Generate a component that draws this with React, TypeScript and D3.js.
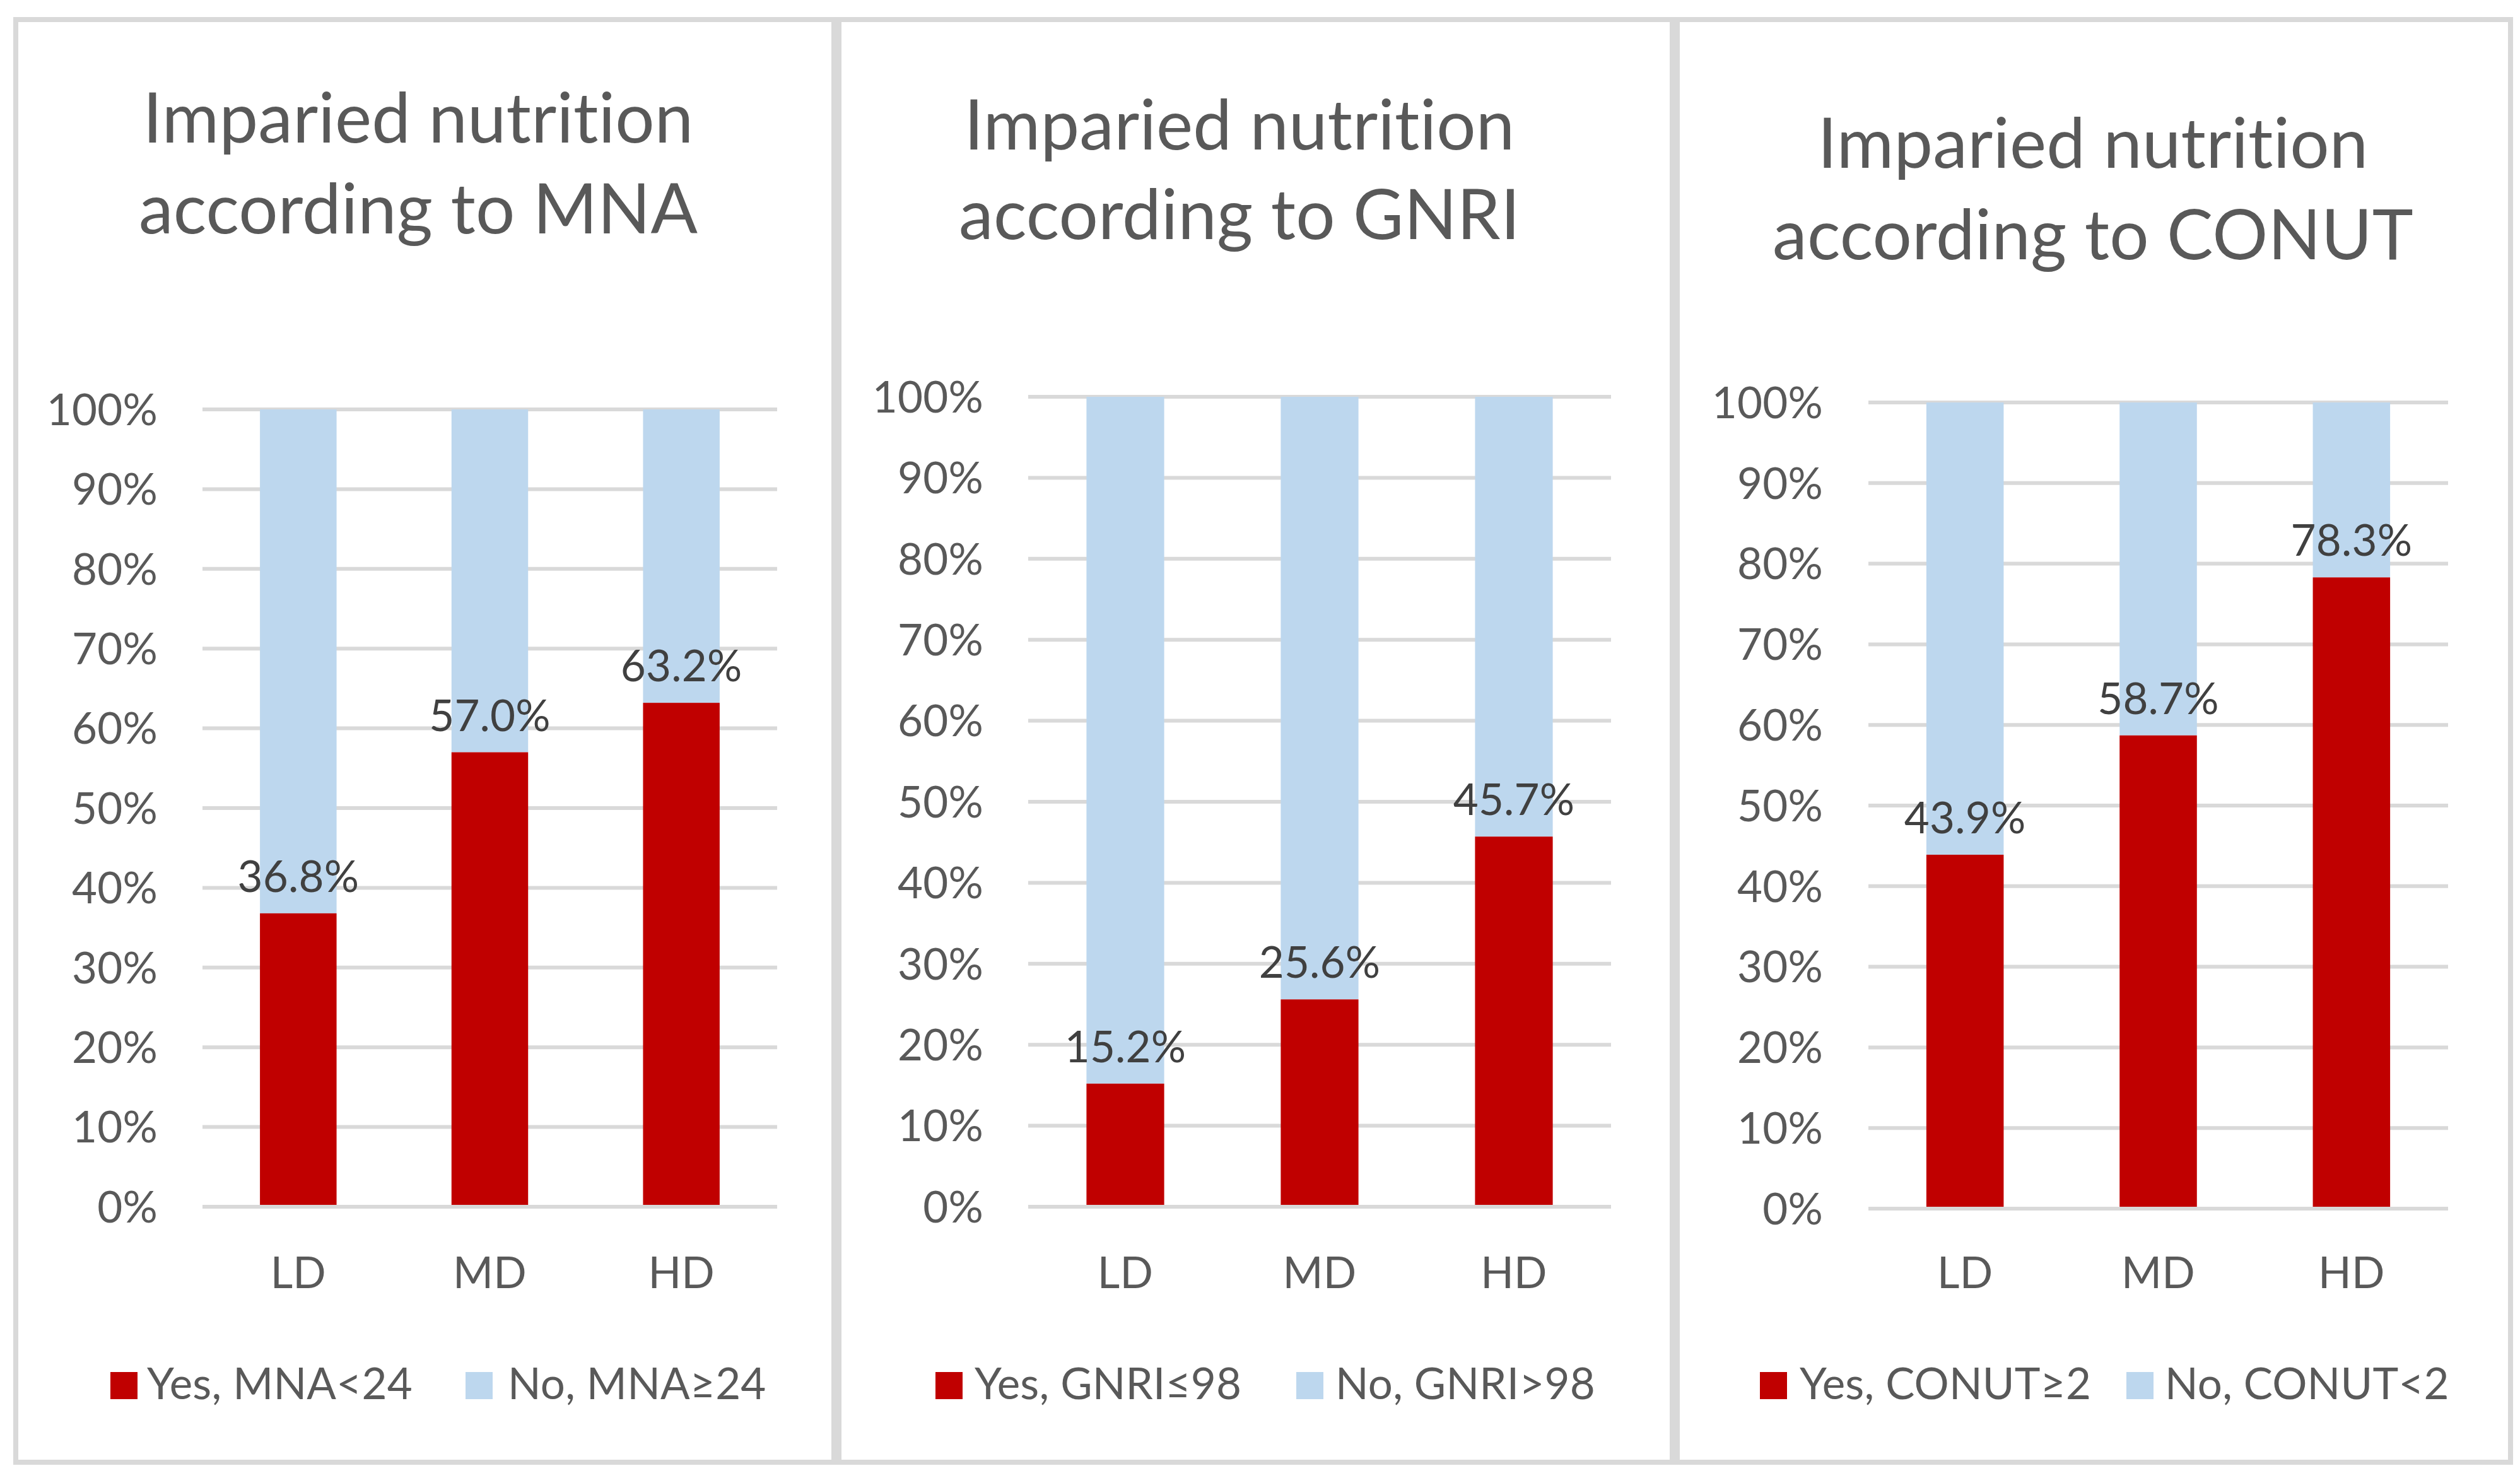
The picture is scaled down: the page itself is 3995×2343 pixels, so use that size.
import React from 'react';
import * as d3 from 'd3';

// ---------- data ----------
const categories = ['LD', 'MD', 'HD'];
const yTicks = [0, 10, 20, 30, 40, 50, 60, 70, 80, 90, 100];

const titleLine1 = ['Imparied nutrition', 'Imparied nutrition', 'Imparied nutrition'];
const titleLine2 = ['according to MNA', 'according to GNRI', 'according to CONUT'];

const yesMNA = [36.8, 57.0, 63.2];
const yesGNRI = [15.2, 25.6, 45.7];
const yesCONUT = [43.9, 58.7, 78.3];

const yesLabels = ['Yes, MNA<24', 'Yes, GNRI≤98', 'Yes, CONUT≥2'];
const noLabels = ['No, MNA≥24', 'No, GNRI>98', 'No, CONUT<2'];

const yesSeries = [yesMNA, yesGNRI, yesCONUT];

// ---------- layout / style ----------
const W = 3995;
const H = 2343;
const FONT = 'Lato, "Open Sans", sans-serif';
const RED = '#C00000';
const BLUE = '#BDD7EE';
const GRID = '#D9D9D9';
const TEXT = '#595959';
const LABEL = '#404040';

const layouts = [
  { box: [21, 1326], plot: [321, 1232, 649, 1913], titleX: 663, titleY: [226, 370], tickRight: 250, leg: [175, 233, 738, 805] },
  { box: [1326, 2655], plot: [1630, 2554, 629, 1913], titleX: 1965, titleY: [237, 379], tickRight: 1559, leg: [1483, 1545, 2055, 2117] },
  { box: [2655, 3984], plot: [2962, 3881, 638, 1916], titleX: 3318, titleY: [266, 411], tickRight: 2890, leg: [2790, 2853, 3371, 3432] },
];

const BOX_TOP = 27;
const BOX_BOTTOM = 2322;
const BORDER = 8;
const TITLE_SIZE = 110;
const AXIS_SIZE = 69;
const CAT_BASELINE = 2042;
const LEG_BASELINE = 2218;
const LEG_SQ = 43;

const textStyle: React.CSSProperties = {
  fontVariantLigatures: 'none',
  fontFeatureSettings: '"liga" 0, "clig" 0, "dlig" 0',
  letterSpacing: '0.2px',
};

function Panel({ i }: { i: number }) {
  const L = layouts[i];
  const [x0, x1, yTop, yBot] = L.plot;
  const x = d3.scaleBand<string>().domain(categories).range([x0, x1]).paddingInner(0.6).paddingOuter(0.3);
  const y = d3.scaleLinear().domain([0, 100]).range([yBot, yTop]);
  const yes = yesSeries[i];
  const capHalf = AXIS_SIZE * 0.36;

  return (
    <g>
      <rect
        x={L.box[0] + BORDER / 2}
        y={BOX_TOP + BORDER / 2}
        width={L.box[1] - L.box[0] - BORDER}
        height={BOX_BOTTOM - BOX_TOP - BORDER}
        fill="#ffffff"
        stroke={GRID}
        strokeWidth={BORDER}
      />
      <text x={L.titleX} y={L.titleY[0]} textAnchor="middle" fontSize={TITLE_SIZE} fill={TEXT} fontFamily={FONT} style={textStyle}>
        {titleLine1[i]}
      </text>
      <text x={L.titleX} y={L.titleY[1]} textAnchor="middle" fontSize={TITLE_SIZE} fill={TEXT} fontFamily={FONT} style={textStyle}>
        {titleLine2[i]}
      </text>

      {yTicks.map((t) => (
        <g key={t}>
          {t > 0 && <line x1={x0} x2={x1} y1={y(t)} y2={y(t)} stroke={GRID} strokeWidth={6} />}
          <text x={L.tickRight} y={y(t) + capHalf} textAnchor="end" fontSize={AXIS_SIZE} fill={TEXT} fontFamily={FONT} style={textStyle}>
            {`${t}%`}
          </text>
        </g>
      ))}

      {categories.map((c, k) => (
        <g key={c}>
          <rect x={x(c)} y={y(100)} width={x.bandwidth()} height={y(yes[k]) - y(100)} fill={BLUE} />
          <rect x={x(c)} y={y(yes[k])} width={x.bandwidth()} height={y(0) - y(yes[k])} fill={RED} />
        </g>
      ))}

      <line x1={x0} x2={x1} y1={y(0)} y2={y(0)} stroke={GRID} strokeWidth={6} />

      {categories.map((c, k) => (
        <text
          key={c}
          x={(x(c) as number) + x.bandwidth() / 2}
          y={y(yes[k]) - 34}
          textAnchor="middle"
          fontSize={AXIS_SIZE}
          fill={LABEL}
          fontFamily={FONT}
          style={textStyle}
        >
          {`${yes[k].toFixed(1)}%`}
        </text>
      ))}

      {categories.map((c) => (
        <text
          key={c}
          x={(x(c) as number) + x.bandwidth() / 2}
          y={CAT_BASELINE}
          textAnchor="middle"
          fontSize={AXIS_SIZE}
          fill={TEXT}
          fontFamily={FONT}
          style={textStyle}
        >
          {c}
        </text>
      ))}

      <rect x={L.leg[0]} y={LEG_BASELINE - LEG_SQ} width={LEG_SQ} height={LEG_SQ} fill={RED} />
      <text x={L.leg[1]} y={LEG_BASELINE} fontSize={AXIS_SIZE} fill={TEXT} fontFamily={FONT} style={textStyle}>
        {yesLabels[i]}
      </text>
      <rect x={L.leg[2]} y={LEG_BASELINE - LEG_SQ} width={LEG_SQ} height={LEG_SQ} fill={BLUE} />
      <text x={L.leg[3]} y={LEG_BASELINE} fontSize={AXIS_SIZE} fill={TEXT} fontFamily={FONT} style={textStyle}>
        {noLabels[i]}
      </text>
    </g>
  );
}

export default function App() {
  return (
    <svg
      width={W}
      height={H}
      viewBox={`0 0 ${W} ${H}`}
      style={{ position: 'absolute', left: 0, top: 0, display: 'block', background: '#ffffff' }}
    >
      <rect x={0} y={0} width={W} height={H} fill="#ffffff" />
      {[0, 1, 2].map((i) => (
        <Panel key={i} i={i} />
      ))}
    </svg>
  );
}
